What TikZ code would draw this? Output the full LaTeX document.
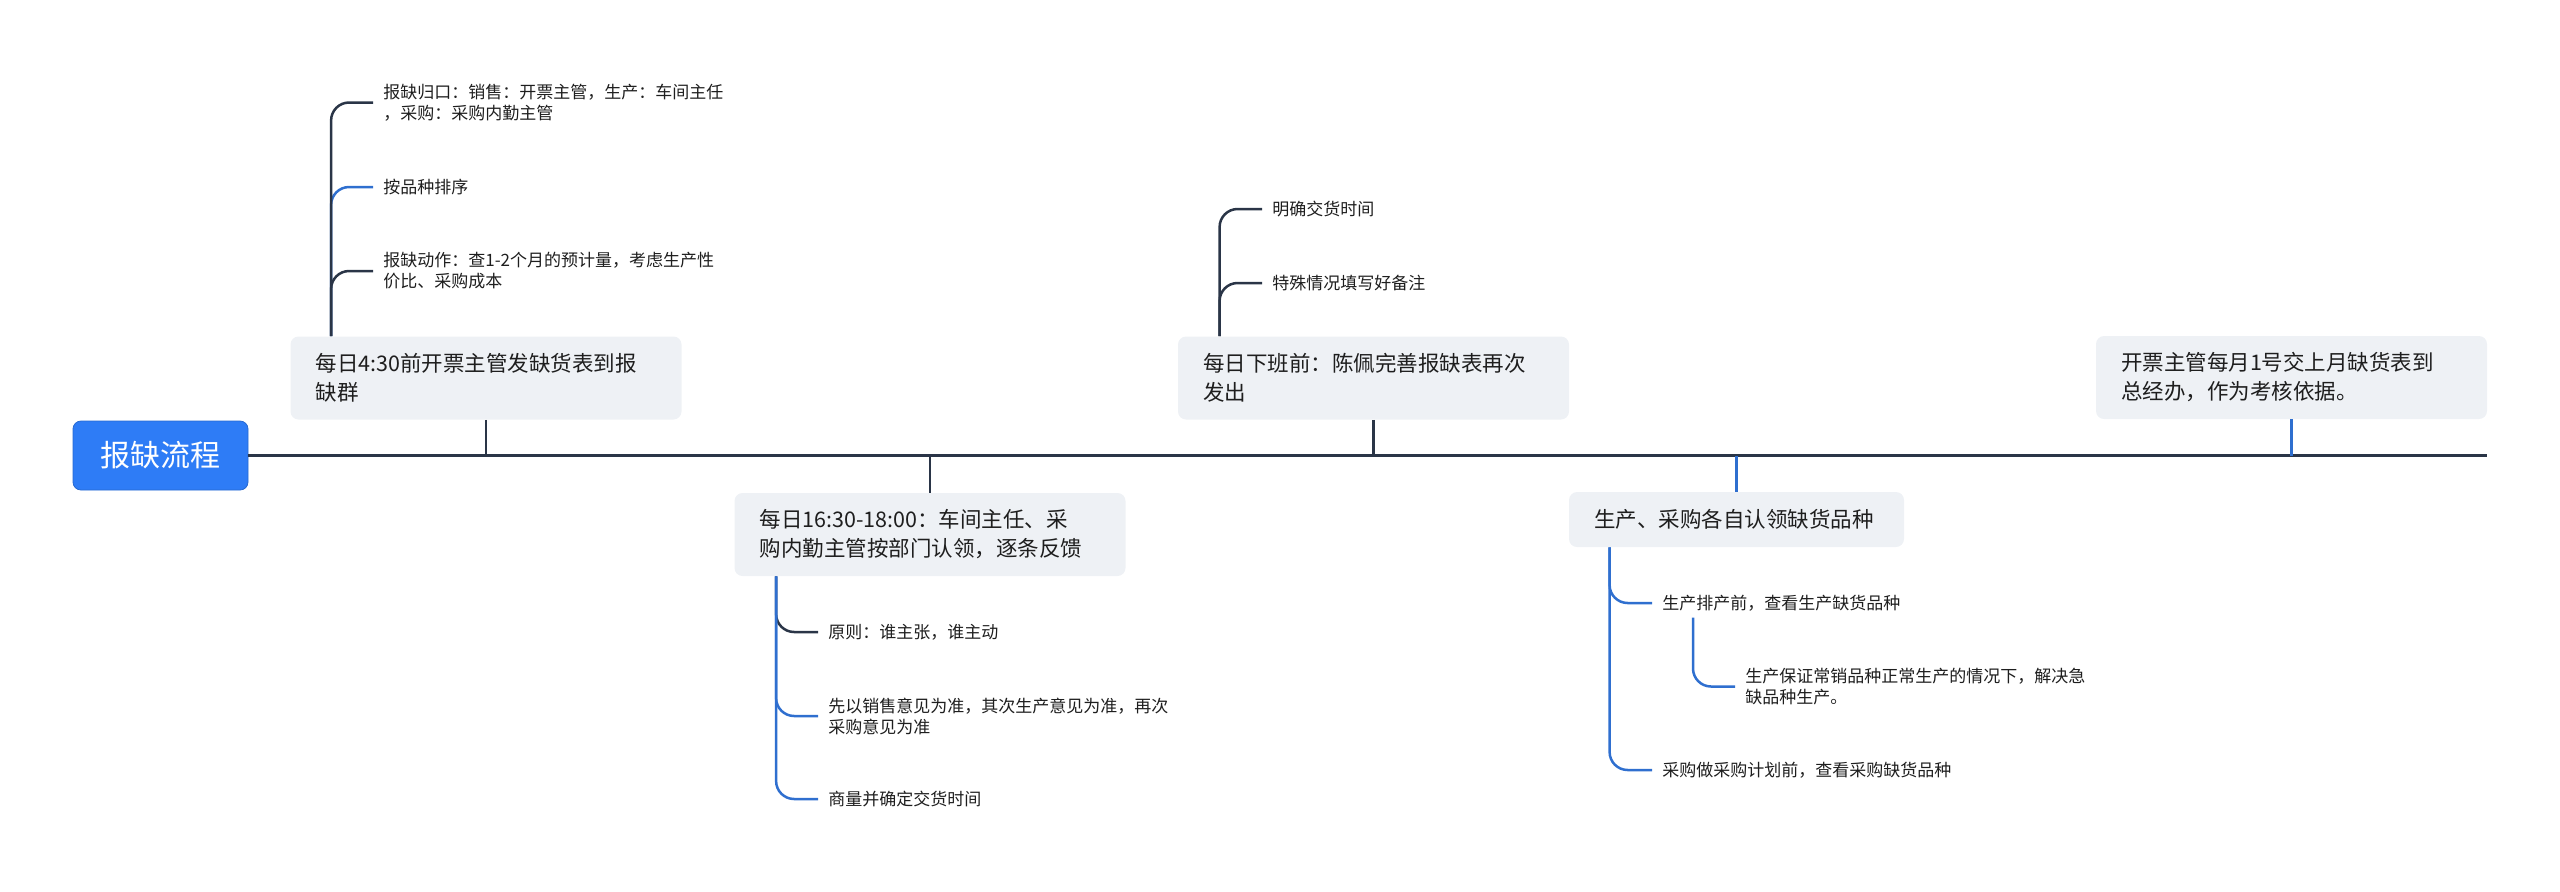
\documentclass[tikz,border=0pt]{standalone}
\usepackage{fontspec}
\setmainfont{Noto Sans CJK SC}
\usetikzlibrary{positioning, calc}
\definecolor{cNavy}{RGB}{42,53,71}
\definecolor{cBlue}{RGB}{47,111,207}
\definecolor{cRoot}{RGB}{46,124,246}
\definecolor{cBox}{RGB}{238,241,245}
\definecolor{cText}{RGB}{30,30,30}

\begin{document}
\begin{tikzpicture}[x=0.5pt, y=-0.5pt,
    rootbox/.style={fill=cRoot, draw=cRoot!85!black, rounded corners=4pt, minimum width=87.5pt,
                    minimum height=34.5pt, text=white, font=\fontsize{15}{18}\selectfont},
    topic/.style={fill=cBox, rounded corners=4pt, inner xsep=12.5pt, align=left, text width=170.5pt,
                  minimum height=41.5pt, text=cText, font=\fontsize{10.75}{14.5}\selectfont},
    leaf/.style={anchor=west, inner xsep=5pt, inner ysep=3pt, align=left, text=cText,
                 font=\fontsize{8.5}{10.5}\selectfont},
    navyline/.style={draw=cNavy, line width=1.25pt, rounded corners=9pt},
    blueline/.style={draw=cBlue, line width=1.25pt, rounded corners=9pt}]

    \useasboundingbox (0,0) rectangle (2560,891);

    % Node Placements
    \node[rootbox] (root) at (160.5,455.5) {报缺流程};
    \coordinate (lineend) at (2487,455.5);

    \node[topic] (t1) at (486,378)      {每日4:30前开票主管发缺货表到报\\缺群};
    \node[topic] (t2) at (930,534.5)    {每日16:30-18:00：车间主任、采\\购内勤主管按部门认领，逐条反馈};
    \node[topic] (t3) at (1373.5,378)   {每日下班前：陈佩完善报缺表再次\\发出};
    \node[topic, text width=142.5pt, minimum height=27.5pt] (t4) at (1736.5,519.5) {生产、采购各自认领缺货品种};
    \node[topic] (t5) at (2291.5,377.5) {开票主管每月1号交上月缺货表到\\总经办，作为考核依据。};

    \node[leaf] (l1a) at (373,102.5) {报缺归口：销售：开票主管，生产：车间主任\\，采购：采购内勤主管};
    \node[leaf] (l1b) at (373,187)   {按品种排序};
    \node[leaf] (l1c) at (373,271)   {报缺动作：查1-2个月的预计量，考虑生产性\\价比、采购成本};

    \node[leaf] (l2a) at (818,632) {原则：谁主张，谁主动};
    \node[leaf] (l2b) at (818,716) {先以销售意见为准，其次生产意见为准，再次\\采购意见为准};
    \node[leaf] (l2c) at (818,799) {商量并确定交货时间};

    \node[leaf] (l3a) at (1262,209) {明确交货时间};
    \node[leaf] (l3b) at (1262,283) {特殊情况填写好备注};

    \node[leaf] (l4a) at (1652,603)   {生产排产前，查看生产缺货品种};
    \node[leaf] (g4a) at (1735,686.5) {生产保证常销品种正常生产的情况下，解决急\\缺品种生产。};
    \node[leaf] (l4b) at (1652,770)   {采购做采购计划前，查看采购缺货品种};

    % Main Line
    \draw[cNavy, line width=1.6pt] (root.east) -- (lineend);
    \draw[navyline] (t1.south) -- (t1.south |- lineend);
    \draw[navyline] (t2.north) -- (t2.north |- lineend);
    \draw[navyline] (t3.south) -- (t3.south |- lineend);
    \draw[blueline] (t4.north) -- (t4.north |- lineend);
    \draw[blueline] (t5.south) -- (t5.south |- lineend);

    % Branches
    \draw[blueline] ($(t1.north west)+(41,0)$) |- (l1b.west);
    \draw[navyline] ($(t1.north west)+(41,0)$) |- (l1c.west);
    \draw[navyline] ($(t1.north west)+(41,0)$) |- (l1a.west);

    \draw[navyline] ($(t2.south west)+(42,0)$) |- (l2a.west);
    \draw[blueline] ($(t2.south west)+(42,0)$) |- (l2b.west);
    \draw[blueline] ($(t2.south west)+(42,0)$) |- (l2c.west);

    \draw[navyline] ($(t3.north west)+(42,0)$) |- (l3b.west);
    \draw[navyline] ($(t3.north west)+(42,0)$) |- (l3a.west);

    \draw[blueline] ($(t4.south west)+(41,0)$) |- (l4a.west);
    \draw[blueline] ($(t4.south west)+(41,0)$) |- (l4b.west);
    \draw[blueline] ($(l4a.south west)+(41,0)$) |- (g4a.west);
\end{tikzpicture}
\end{document}
